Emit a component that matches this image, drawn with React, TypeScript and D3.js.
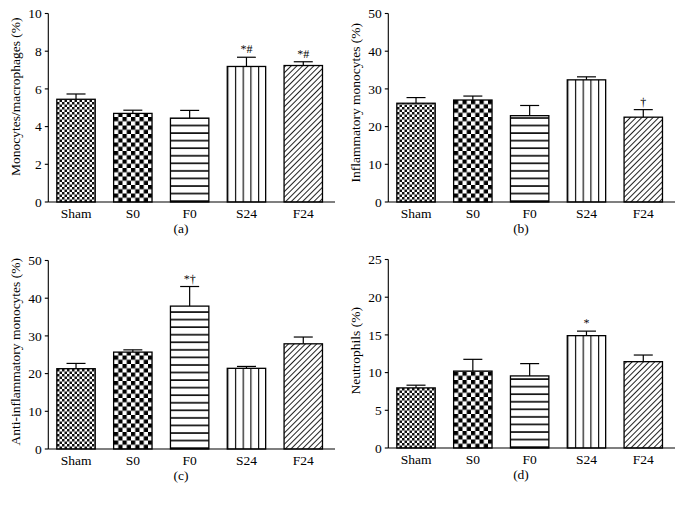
import React from 'react';
import * as d3 from 'd3';

const categories = ['Sham', 'S0', 'F0', 'S24', 'F24'];

const monoMean = [5.45, 4.7, 4.45, 7.19, 7.24];
const monoSem = [0.28, 0.17, 0.41, 0.49, 0.2];
const monoMarks = ['', '', '', '*#', '*#'];
const monoTicks = [0, 2, 4, 6, 8, 10];

const inflMean = [26.2, 27.05, 22.9, 32.4, 22.5];
const inflSem = [1.5, 1.05, 2.7, 0.8, 2.0];
const inflMarks = ['', '', '', '', '†'];
const inflTicks = [0, 10, 20, 30, 40, 50];

const antiMean = [21.3, 25.7, 37.9, 21.4, 27.9];
const antiSem = [1.4, 0.6, 5.2, 0.5, 1.8];
const antiMarks = ['', '', '*†', '', ''];
const antiTicks = [0, 10, 20, 30, 40, 50];

const neutMean = [7.97, 10.2, 9.56, 14.9, 11.45];
const neutSem = [0.36, 1.56, 1.63, 0.6, 0.88];
const neutMarks = ['', '', '', '*', ''];
const neutTicks = [0, 5, 10, 15, 20, 25];

const FONT = '"Liberation Serif", "Times New Roman", serif';

type PanelProps = {
  id: string;
  ox: number;
  oy: number;
  mean: number[];
  sem: number[];
  marks: string[];
  ticks: number[];
  ylabel: string;
  letter: string;
  labelShift: number;
};

const Panel: React.FC<PanelProps> = ({ id, ox, oy, mean, sem, marks, ticks, ylabel, letter, labelShift }) => {
  const axisX = 48.3;
  const y0 = 202;
  const yTop = 13.5;
  const maxT = ticks[ticks.length - 1];
  const y = d3.scaleLinear().domain([0, maxT]).range([y0, yTop]);
  const x = d3
    .scaleBand<string>()
    .domain(categories)
    .range([axisX, 331])
    .paddingInner(0.324)
    .paddingOuter(0.15);
  const bw = x.bandwidth();
  const patterns = [`${id}-fine`, `${id}-coarse`, `${id}-hor`, `${id}-ver`, `${id}-diag`];
  const axisCenter = (y0 + yTop) / 2 - labelShift;
  return (
    <g transform={`translate(${ox},${oy})`}>
      <defs>
        <pattern id={patterns[0]} patternUnits="userSpaceOnUse" width={5} height={5} x={Math.round(x('Sham')!)} y={y0}>
          <rect width={5} height={5} fill="#fff" />
          <rect width={2.5} height={2.5} fill="#111" />
          <rect x={2.5} y={2.5} width={2.5} height={2.5} fill="#111" />
        </pattern>
        <pattern id={patterns[1]} patternUnits="userSpaceOnUse" width={8.5} height={8.5} x={Math.round(x('S0')!)} y={y0}>
          <rect width={8.5} height={8.5} fill="#fff" />
          <rect width={4.25} height={4.25} fill="#000" />
          <rect x={4.25} y={4.25} width={4.25} height={4.25} fill="#000" />
        </pattern>
        <pattern id={patterns[2]} patternUnits="userSpaceOnUse" width={10} height={7.56} x={0} y={y0}>
          <rect width={10} height={7.56} fill="#fff" />
          <rect x={0} y={7.56 - 1.7} width={10} height={1.7} fill="#111" />
        </pattern>
        <pattern id={patterns[3]} patternUnits="userSpaceOnUse" width={bw / 5} height={10} x={x('S24')} y={0}>
          <rect width={bw / 5} height={10} fill="#fff" />
          <rect x={0} y={0} width={1.2} height={10} fill="#111" />
        </pattern>
        <pattern
          id={patterns[4]}
          patternUnits="userSpaceOnUse"
          width={4}
          height={10}
          patternTransform="rotate(45)"
        >
          <rect width={4} height={10} fill="#fff" />
          <rect x={0} y={0} width={1} height={10} fill="#222" />
        </pattern>
      </defs>

      {categories.map((c, i) => {
        const bx = x(c)!;
        const top = y(mean[i]);
        const et = y(mean[i] + sem[i]);
        const cx = bx + bw / 2;
        return (
          <g key={c}>
            <line x1={cx} x2={cx} y1={top} y2={et} stroke="#000" strokeWidth={1.2} />
            <line x1={cx - 9.5} x2={cx + 9.5} y1={et} y2={et} stroke="#000" strokeWidth={1.2} />
            <rect
              x={bx}
              y={top}
              width={bw}
              height={y0 - top}
              fill={`url(#${patterns[i]})`}
              stroke="#000"
              strokeWidth={1.3}
            />
            {marks[i] && (
              <text
                x={cx}
                y={et - 4}
                textAnchor="middle"
                fontFamily={FONT}
                fontSize={12}
                fill="#000"
                style={{ textRendering: 'geometricPrecision' }}
              >
                {marks[i]}
              </text>
            )}
            <text x={cx} y={218} textAnchor="middle" fontFamily={FONT} fontSize={13.5} fill="#000">
              {c}
            </text>
          </g>
        );
      })}

      <line x1={axisX} x2={axisX} y1={yTop} y2={y0} stroke="#000" strokeWidth={1.1} />
      <line x1={axisX} x2={335} y1={y0} y2={y0} stroke="#000" strokeWidth={1.1} />
      {ticks.map((t) => (
        <g key={t}>
          <line x1={axisX - 3.5} x2={axisX} y1={y(t)} y2={y(t)} stroke="#000" strokeWidth={1.1} />
          <text
            x={axisX - 6.5}
            y={y(t)}
            dy="0.35em"
            textAnchor="end"
            fontFamily={FONT}
            fontSize={13.5}
            fill="#000"
          >
            {t}
          </text>
        </g>
      ))}
      <text
        transform={`translate(${20},${axisCenter}) rotate(-90)`}
        textAnchor="middle"
        fontFamily={FONT}
        fontSize={13.5}
        fill="#000"
      >
        {ylabel}
      </text>
      <text x={181} y={232.5} textAnchor="middle" fontFamily={FONT} fontSize={13.5} fill="#000">
        {letter}
      </text>
    </g>
  );
};

export default function App() {
  return (
    <svg width={679} height={508} style={{ display: 'block', position: 'absolute', left: 0, top: 0 }}>
      <rect width={679} height={508} fill="#fff" />
      <Panel
        id="a"
        ox={0}
        oy={0}
        mean={monoMean}
        sem={monoSem}
        marks={monoMarks}
        ticks={monoTicks}
        ylabel="Monocytes/macrophages (%)"
        letter="(a)"
        labelShift={11}
      />
      <Panel
        id="b"
        ox={340}
        oy={0}
        mean={inflMean}
        sem={inflSem}
        marks={inflMarks}
        ticks={inflTicks}
        ylabel="Inflammatory monocytes (%)"
        letter="(b)"
        labelShift={5}
      />
      <Panel
        id="c"
        ox={0}
        oy={247}
        mean={antiMean}
        sem={antiSem}
        marks={antiMarks}
        ticks={antiTicks}
        ylabel="Anti-inflammatory monocytes (%)"
        letter="(c)"
        labelShift={3}
      />
      <Panel
        id="d"
        ox={340}
        oy={246}
        mean={neutMean}
        sem={neutSem}
        marks={neutMarks}
        ticks={neutTicks}
        ylabel="Neutrophils (%)"
        letter="(d)"
        labelShift={3}
      />
    </svg>
  );
}
